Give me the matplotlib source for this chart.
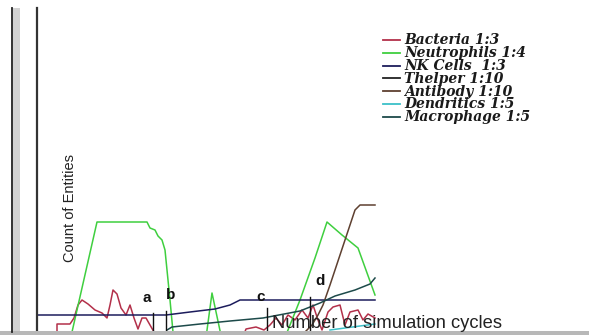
import numpy as np
import matplotlib.pyplot as plt
from matplotlib.lines import Line2D

# simulation cycles / counts
bact_x = [20, 20, 33, 37, 41, 45, 51, 58, 65, 70, 73, 76, 80, 84, 89, 93, 97, 101, 105, 109, 113, 117, 121,
          203, 209, 219, 227, 233, 239, 245, 251, 258, 265, 271, 276, 281, 285, 291, 296, 303, 308, 313, 321, 326, 331, 338]
bact_y = [0, 8, 8, 14, 27, 32, 28, 22, 19, 14, 27, 42, 38, 24, 17, 27, 14, 3, 14, 14, 7, 0, -13,
          -13, 3, 5, 2, 7, 14, 7, 17, 12, 22, 14, 27, 12, 2, 20, 25, 27, 7, 20, 22, 12, 18, 14]

neut_x = [28, 35, 60, 110, 113, 118, 121, 125, 128, 131, 133, 136, 139, 168, 175, 185, 247, 263, 278, 290, 305, 321, 338]
neut_y = [-13, 0, 110, 110, 104, 102, 96, 92, 82, 52, 32, 0, -13, -13, 39, -8, -8, 32, 74, 110, 97, 84, 37]

nk_x = [0, 129, 153, 178, 193, 203, 338]
nk_y = [17, 17, 20, 23, 27, 32, 32]

thelper_x = [250, 338]
thelper_y = [-2, -1]

anti_x = [258, 268, 275, 281, 286, 293, 303, 313, 318, 323, 338]
anti_y = [-8, 0, 7, 17, 27, 47, 77, 107, 122, 127, 127]

dend_x = [293, 308, 323, 338]
dend_y = [2, 4, 6, 8]

macro_x = [130, 135, 163, 193, 226, 263, 283, 298, 318, 333, 338]
macro_y = [2, 5, 8, 11, 14, 21, 29, 36, 42, 48, 54]

legend_labels = ['Bacteria 1:3', 'Neutrophils 1:4', 'NK Cells  1:3', 'Thelper 1:10',
                 'Antibody 1:10', 'Dendritics 1:5', 'Macrophage 1:5']
colors = ['#b3304a', '#3fcf3f', '#1c1c5c', '#222222', '#5e4030', '#3cc0c8', '#1d4a4a']

marks_x = [116, 129, 230, 273]
marks_top = [19, 21, 24, 35]
marks_lab = ['a', 'b', 'c', 'd']
lab_pos = [(110, 34), (134, 37), (224, 35), (283, 51)]

W, H = 589, 335


def main():
    fig = plt.figure(figsize=(W / 100, H / 100), dpi=100)
    fig.patch.set_facecolor('white')

    ax = fig.add_axes([37 / W, 3 / H, (W - 37) / W, 324 / H])
    ax.set_xlim(0, W - 37)
    ax.set_ylim(0, 324)
    for s in ['top', 'right', 'bottom']:
        ax.spines[s].set_visible(False)
    ax.spines['left'].set_color('#333333')
    ax.spines['left'].set_linewidth(1.6)
    ax.set_xticks([])
    ax.set_yticks([])
    ax.patch.set_alpha(0)

    series = [(bact_x, bact_y), (neut_x, neut_y), (nk_x, nk_y), (thelper_x, thelper_y),
              (anti_x, anti_y), (dend_x, dend_y), (macro_x, macro_y)]
    for (xs, ys), c in zip(series, colors):
        ax.plot(xs, ys, color=c, lw=1.1)

    for x, top in zip(marks_x, marks_top):
        ax.plot([x, x], [0, top], color='#111111', lw=1.0)
    for (lx, ly), t in zip(lab_pos, marks_lab):
        ax.text(lx, ly, t, fontsize=11, fontweight='bold', family='Liberation Sans',
                ha='center', va='center', color='#111111')

    # overlay in pixel units for the window chrome, labels and legend
    ov = fig.add_axes([0, 0, 1, 1])
    ov.set_xlim(0, W)
    ov.set_ylim(H, 0)
    ov.axis('off')
    ov.patch.set_alpha(0)
    ov.plot([11.5, 11.5], [8, 332], color='#222222', lw=1.3)
    ov.fill_between([13, 20], 8, 332, color='#d2d2d2', lw=0)
    ov.fill_between([0, W], 331, 335, color='#b8b8b8', lw=0)

    ov.text(70, 208, 'Count of Entities', rotation=90, fontsize=10.5,
            family='Liberation Sans', ha='center', va='center', color='#222222')
    ov.text(272, 323, 'Number of simulation cycles', fontsize=13.2,
            family='Liberation Sans', ha='left', va='center', color='#222222')

    for i, (lab, c) in enumerate(zip(legend_labels, colors)):
        y = 40 + i * 12.8
        ov.plot([383, 400], [y, y], color=c, lw=1.3)
        ov.text(404, y + 0.5, lab, fontsize=10, family='DejaVu Serif', fontweight='heavy',
                style='italic', ha='left', va='center', color='#1a1a1a')

    fig.savefig('out.png', dpi=100)


if __name__ == '__main__':
    main()
